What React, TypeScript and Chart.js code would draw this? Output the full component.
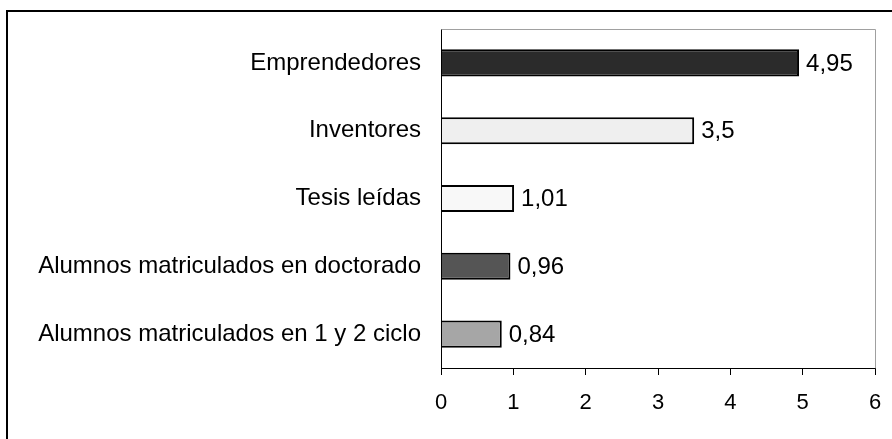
import React, { useEffect, useRef } from "react";
import { Chart, registerables } from "chart.js";

Chart.register(...registerables);

const categories = [
  "Emprendedores",
  "Inventores",
  "Tesis leídas",
  "Alumnos matriculados en doctorado",
  "Alumnos matriculados en 1 y 2 ciclo",
];
const values = [4.95, 3.5, 1.01, 0.96, 0.84];
const barColors = ["#2b2b2b", "#efefef", "#f8f8f8", "#555555", "#a6a6a6"];
const xTicks = [0, 1, 2, 3, 4, 5, 6];

const FONT = "'Liberation Sans', Arial, sans-serif";

const framePlugin = {
  id: "frame",
  beforeDraw(chart: any) {
    const ctx = chart.ctx;
    ctx.save();
    ctx.fillStyle = "#ffffff";
    ctx.fillRect(0, 0, chart.width, chart.height);
    ctx.strokeStyle = "#000000";
    ctx.lineWidth = 2;
    ctx.strokeRect(7, 11, 2000, 2000);
    ctx.restore();
  },
  afterDatasetsDraw(chart: any) {
    const ctx = chart.ctx;
    const a = chart.chartArea;
    ctx.save();
    ctx.lineWidth = 1;
    ctx.strokeStyle = "#a0a0a0";
    ctx.beginPath();
    ctx.moveTo(Math.round(a.left) + 0.5, Math.round(a.top) + 0.5);
    ctx.lineTo(Math.round(a.right) + 0.5, Math.round(a.top) + 0.5);
    ctx.lineTo(Math.round(a.right) + 0.5, Math.round(a.bottom) + 0.5);
    ctx.stroke();
    ctx.strokeStyle = "#000000";
    ctx.beginPath();
    ctx.moveTo(Math.round(a.left) + 0.5, Math.round(a.top) + 0.5);
    ctx.lineTo(Math.round(a.left) + 0.5, Math.round(a.bottom) + 0.5);
    ctx.lineTo(Math.round(a.right) + 0.5, Math.round(a.bottom) + 0.5);
    ctx.stroke();

    // value labels
    ctx.fillStyle = "#000000";
    ctx.font = `24px ${FONT}`;
    ctx.textAlign = "left";
    ctx.textBaseline = "middle";
    const meta = chart.getDatasetMeta(0);
    meta.data.forEach((bar: any, i: number) => {
      const txt = String(values[i]).replace(".", ",");
      ctx.fillText(txt, bar.x + 7, bar.y + 1);
    });
    ctx.restore();
  },
};

export default function App() {
  const ref = useRef<HTMLCanvasElement | null>(null);
  useEffect(() => {
    if (!ref.current) return;
    const chart = new Chart(ref.current, {
      type: "bar",
      data: {
        labels: categories,
        datasets: [
          {
            data: values,
            backgroundColor: barColors,
            borderColor: "#000000",
            borderWidth: 2,
            barPercentage: 0.4,
            categoryPercentage: 1,
          },
        ],
      },
      options: {
        indexAxis: "y",
        responsive: false,
        animation: false,
        layout: { padding: { left: 0, top: 29, right: 17, bottom: 0 } },
        plugins: {
          legend: { display: false },
          tooltip: { enabled: false },
          title: { display: false },
        },
        scales: {
          x: {
            type: "linear",
            min: 0,
            max: 6,
            afterBuildTicks: (scale: any) => {
              scale.ticks = xTicks.map((v) => ({ value: v }));
            },
            afterFit: (scale: any) => {
              scale.height = 71;
              scale.paddingLeft = 0;
              scale.paddingRight = 0;
              scale.paddingTop = 0;
              scale.paddingBottom = 0;
            },
            ticks: {
              color: "#000000",
              font: { family: FONT, size: 22 },
              padding: 15,
              maxRotation: 0,
              autoSkip: false,
            },
            grid: {
              display: true,
              drawOnChartArea: false,
              drawTicks: true,
              tickLength: 7,
              color: "#000000",
              lineWidth: 1,
            },
            border: { display: false },
          },
          y: {
            type: "category",
            afterFit: (scale: any) => {
              scale.width = 441;
              scale.paddingLeft = 0;
              scale.paddingRight = 0;
              scale.paddingTop = 0;
              scale.paddingBottom = 0;
            },
            ticks: {
              color: "#000000",
              font: { family: FONT, size: 24 },
              padding: 20,
              autoSkip: false,
            },
            grid: { display: false, drawTicks: false },
            border: { display: false },
          },
        },
      },
      plugins: [framePlugin],
    });
    return () => chart.destroy();
  }, []);
  return (
    <div style={{ position: "fixed", left: 0, top: 0, width: 892, height: 439 }}>
      <canvas ref={ref} width={892} height={439} style={{ display: "block" }} />
    </div>
  );
}
